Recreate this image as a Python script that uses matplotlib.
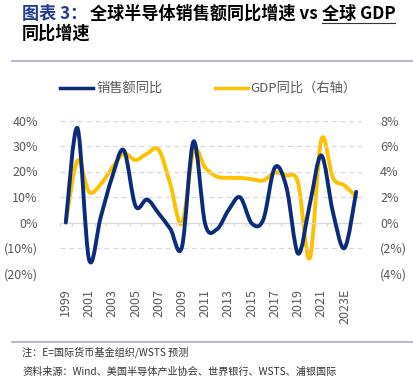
import matplotlib
matplotlib.use('Agg')
import matplotlib.pyplot as plt
import numpy as np
from matplotlib.path import Path
from matplotlib.patches import PathPatch
from matplotlib.lines import Line2D

plt.rcParams['font.family'] = ['Noto Sans CJK SC', 'DejaVu Sans']

years = list(range(1999, 2025))
year_labels = ['1999', '2001', '2003', '2005', '2007', '2009', '2011', '2013',
               '2015', '2017', '2019', '2021', '2023E']
# 销售额同比 (%), left axis
sales_yoy = [0, 37, -14.5, 2, 18, 28.3, 6.5, 9, 3.5, -2.5, -9.6, 31.8, -0.6,
             -2.7, 4.8, 9.9, -0.3, 1.1, 21.6, 13.7, -12.2, 7, 26.3, 4, -10, 12]
# GDP同比 (%), right axis
gdp_yoy = [0, 4.85, 2.4, 3.0, 4.3, 5.4, 4.9, 5.4, 5.7, 3.0, -0.1, 5.6, 4.3,
           3.6, 3.5, 3.5, 3.4, 3.3, 3.9, 3.7, 3.1, -2.8, 6.5, 3.5, 2.9, 2.0]

NAVY = '#0B2C7A'
GOLD = '#FFC000'
GRAY = '#595959'


def smooth_path(x, y):
    # Excel-style smoothed line: Catmull-Rom as cubic bezier segments
    x = np.asarray(x, float)
    y = np.asarray(y, float)
    n = len(x)
    verts = [(x[0], y[0])]
    codes = [Path.MOVETO]
    for i in range(n - 1):
        p0 = i - 1 if i > 0 else i
        p3 = i + 2 if i + 2 < n else i + 1
        c1 = (x[i] + (x[i + 1] - x[p0]) / 6, y[i] + (y[i + 1] - y[p0]) / 6)
        c2 = (x[i + 1] - (x[p3] - x[i]) / 6, y[i + 1] - (y[p3] - y[i]) / 6)
        verts += [c1, c2, (x[i + 1], y[i + 1])]
        codes += [Path.CURVE4] * 3
    return Path(verts, codes)


fig = plt.figure(figsize=(4.13, 3.88), dpi=100)
W, H = 413, 388
ax = fig.add_axes([60 / W, 1 - 273.5 / H, 302 / W, 153 / H])
ax2 = ax.twinx()

ax.set_xlim(1998.5, 2024.5)
ax.set_ylim(-20, 40)
ax2.set_ylim(-4, 8)

for v in range(-20, 41, 10):
    if v != 0:
        ax.axhline(v, color='#D9D9D9', lw=0.9, ls=(0, (4, 3)), zorder=0)
ax.axhline(0, color='#D9D9D9', lw=1.0, zorder=0)
ax.vlines(np.arange(1998.5, 2025, 1), -1.3, 0, color='#D9D9D9', lw=0.9, zorder=0)

ax.add_patch(PathPatch(smooth_path(years, sales_yoy), fill=False, edgecolor=NAVY,
                       lw=2.8, capstyle='round', joinstyle='round', zorder=3))
ax2.add_patch(PathPatch(smooth_path(years, gdp_yoy), fill=False, edgecolor=GOLD,
                        lw=2.8, capstyle='round', joinstyle='round', zorder=3))
ax.set_zorder(ax2.get_zorder() + 1)
ax.patch.set_visible(False)


def pct(v):
    return f'({abs(v):.0f}%)' if v < 0 else f'{v:.0f}%'


ax.set_yticks(range(-20, 41, 10))
ax.set_yticklabels([pct(v) for v in range(-20, 41, 10)])
ax2.set_yticks(range(-4, 9, 2))
ax2.set_yticklabels([pct(v) for v in range(-4, 9, 2)])
ax.set_xticks(years[::2])
ax.set_xticklabels(year_labels, rotation=90, va='top', ha='center')

for a in (ax, ax2):
    for s in a.spines.values():
        s.set_visible(False)
    a.tick_params(length=0, labelsize=9, labelcolor=GRAY)
ax.tick_params(axis='y', pad=16)
ax.tick_params(axis='x', pad=11)
ax2.tick_params(axis='y', pad=13)

# legend
fig.add_artist(Line2D([60 / W, 93 / W], [1 - 88 / H] * 2, color=NAVY, lw=2.5))
fig.text(96 / W, 1 - 88 / H, '销售额同比', fontsize=9.5, color=GRAY, va='center')
fig.add_artist(Line2D([215 / W, 248 / W], [1 - 88 / H] * 2, color=GOLD, lw=2.5))
fig.text(250 / W, 1 - 88 / H, 'GDP同比（右轴）', fontsize=9.5, color=GRAY, va='center')

# title
tfs = 12.3
fig.text(22 / W, 1 - 14 / H, '图表 3：', fontsize=tfs, fontweight='bold',
         color='#1F3A93', va='center')
t1 = fig.text(90 / W, 1 - 14 / H, '全球半导体销售额同比增速 vs ', fontsize=tfs,
              fontweight='bold', color='black', va='center')
fig.canvas.draw()
bb = t1.get_window_extent()
t2 = fig.text(bb.x1 / W, 1 - 14 / H, '全球 GDP', fontsize=tfs,
              fontweight='bold', color='black', va='center')
fig.canvas.draw()
bb2 = t2.get_window_extent()
fig.add_artist(Line2D([bb2.x0 / W, bb2.x1 / W], [1 - 23 / H] * 2, color='#333333', lw=0.8))
fig.text(22 / W, 1 - 34 / H, '同比增速', fontsize=tfs, fontweight='bold',
         color='black', va='center')

# rules
fig.add_artist(Line2D([12 / W, 1], [1 - 61 / H] * 2, color='#A7A7CC', lw=1.2))
fig.add_artist(Line2D([12 / W, 1], [1 - 342 / H] * 2, color='#A7A7CC', lw=1.2))

# footnotes
fig.text(22 / W, 1 - 352 / H, '注：E=国际货币基金组织/WSTS 预测', fontsize=7.3,
         color='#333333', va='center')
fig.text(22 / W, 1 - 372 / H, '资料来源：Wind、美国半导体产业协会、世界银行、WSTS、浦银国际',
         fontsize=7.3, color='#333333', va='center')

fig.savefig('out.png', dpi=100)
